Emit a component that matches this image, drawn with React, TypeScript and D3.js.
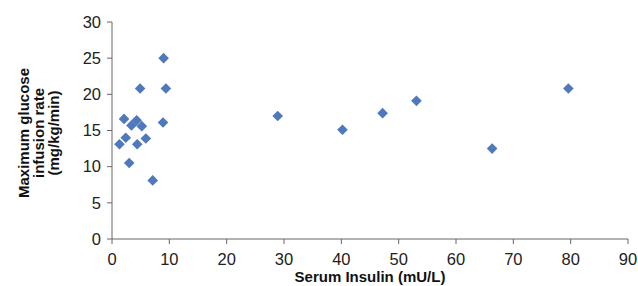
import * as d3 from "d3";

// values
const insulin = [
  1.3, 2.1, 2.4, 3.0, 3.4, 4.3, 4.4, 4.9, 5.2, 5.9, 7.1, 8.9, 9.0, 9.4,
  28.9, 40.2, 47.2, 53.1, 66.3, 79.6,
];
const glucoseRate = [
  13.1, 16.6, 14.0, 10.5, 15.7, 16.4, 13.1, 20.8, 15.6, 13.9, 8.1, 16.1, 25.0, 20.8,
  17.0, 15.1, 17.4, 19.1, 12.5, 20.8,
];
const xTicks = [0, 10, 20, 30, 40, 50, 60, 70, 80, 90];
const yTicks = [0, 5, 10, 15, 20, 25, 30];
const yTitle = ["Maximum glucose", "infusion rate", "(mg/kg/min)"];

const W = 638;
const H = 286;
const margin = { top: 22, right: 10, bottom: 47, left: 112 };

export default function App() {
  const x = d3.scaleLinear().domain([0, 90]).range([margin.left, W - margin.right]);
  const y = d3.scaleLinear().domain([0, 30]).range([H - margin.bottom, margin.top]);
  const sym = d3.symbol().type(d3.symbolDiamond2).size(72)();
  const axisColor = "#666";
  const font = "'Liberation Sans', Arial, sans-serif";
  const y0 = y(0);

  return (
    <svg width={W} height={H} style={{ position: "absolute", left: 0, top: 0 }} fontFamily={font}>
      {/* y axis */}
      <line x1={x(0)} x2={x(0)} y1={y(30)} y2={y0} stroke={axisColor} />
      {yTicks.map((t) => (
        <g key={"y" + t}>
          <line x1={x(0) - 5} x2={x(0)} y1={y(t)} y2={y(t)} stroke={axisColor} />
          <text x={x(0) - 11} y={y(t)} dy="0.35em" textAnchor="end" fontSize={16.5} fill="#222">
            {t}
          </text>
        </g>
      ))}
      {/* x axis */}
      <line x1={x(0)} x2={x(90)} y1={y0} y2={y0} stroke={axisColor} />
      {xTicks.map((t) => (
        <g key={"x" + t}>
          <line x1={x(t)} x2={x(t)} y1={y0} y2={y0 + 5} stroke={axisColor} />
          <text x={x(t)} y={y0 + 26} textAnchor="middle" fontSize={16.5} fill="#222">
            {t}
          </text>
        </g>
      ))}
      {/* points */}
      {insulin.map((v, i) => (
        <path
          key={i}
          d={sym}
          transform={`translate(${x(v)},${y(glucoseRate[i])})`}
          fill="#4f79bd"
        />
      ))}
      {/* titles */}
      <text x={x(45)} y={282} textAnchor="middle" fontSize={15} fontWeight="bold" fill="#111">
        Serum Insulin (mU/L)
      </text>
      <g transform="translate(39,133) rotate(-90)">
        {yTitle.map((s, i) => (
          <text key={i} x={0} y={(i - 1) * 15} dy="0.35em" textAnchor="middle" fontSize={15} fontWeight="bold" fill="#111">
            {s}
          </text>
        ))}
      </g>
    </svg>
  );
}
